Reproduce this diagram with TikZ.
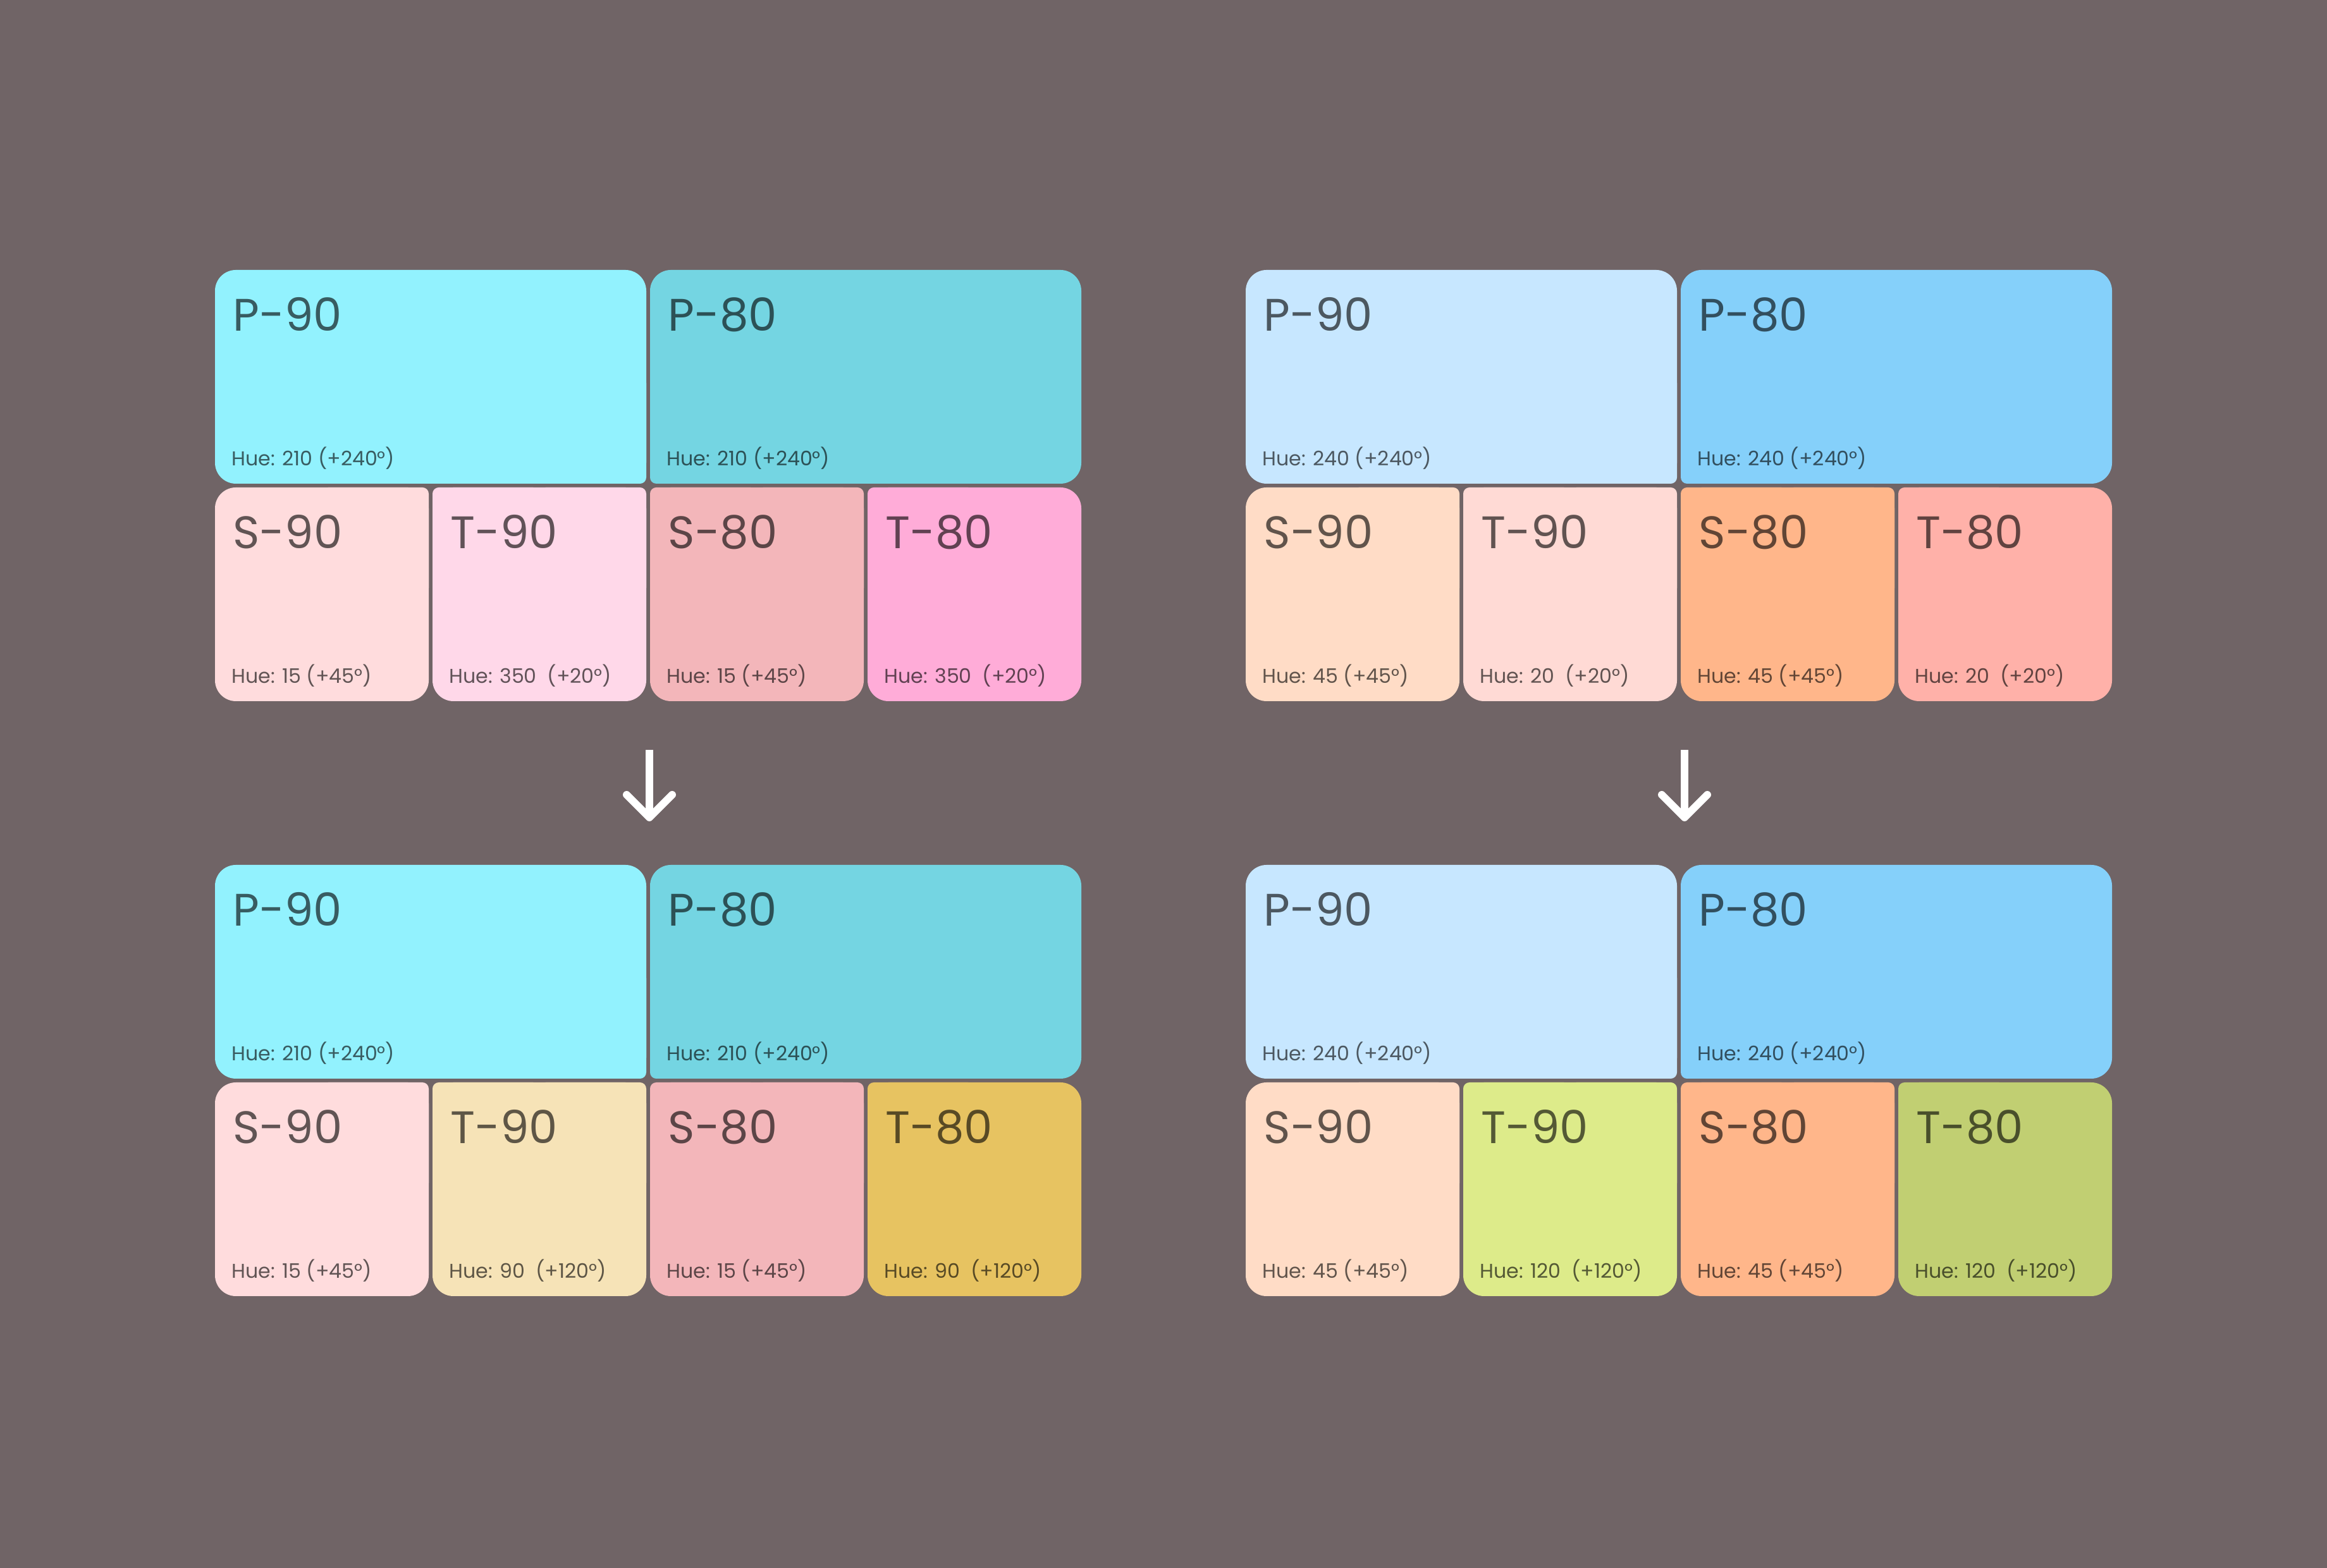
\documentclass[tikz,border=0pt]{standalone}
\usepackage{fontspec}
\setmainfont{Poppins}
\usetikzlibrary{arrows.meta}

\definecolor{bg}{HTML}{706466}
\definecolor{lp9}{HTML}{92F2FE}
\definecolor{lp8}{HTML}{74D5E2}
\definecolor{ls9}{HTML}{FFDCDD}
\definecolor{lt9}{HTML}{FFD8E9}
\definecolor{ls8}{HTML}{F3B6BA}
\definecolor{lt8}{HTML}{FFACD8}
\definecolor{mt9}{HTML}{F6E3B7}
\definecolor{mt8}{HTML}{E7C361}
\definecolor{rp9}{HTML}{C7E7FF}
\definecolor{rp8}{HTML}{85D0FA}
\definecolor{rs9}{HTML}{FFDCC6}
\definecolor{rt9}{HTML}{FFDAD5}
\definecolor{rs8}{HTML}{FFB68A}
\definecolor{rt8}{HTML}{FFB1A9}
\definecolor{nt9}{HTML}{DDEB8A}
\definecolor{nt8}{HTML}{C1CF72}

% name, colour, top left, width, tone, hue, inner corners
\newcommand{\swatch}[7]{%
  \node[tile,fill=#2,minimum width=#4,anchor=north west] (#1) at (#3) {};
  \foreach \cn in {#7} \fill[#2,rounded corners=2.8pt] (#1.\cn) rectangle (#1.center);
  \node[tone,text=#2!38!black] (#1-lbl) at ([shift={(0.28,-0.97)}]#1.north west) {#5};
  \node[hue,text=#2!38!black] (#1-hue) at ([shift={(0.26,0.28)}]#1.south west) {#6};
}

\begin{document}
\begin{tikzpicture}[
    tile/.style={rectangle,inner sep=0,outer sep=0,minimum height=3.38cm,rounded corners=9.4pt},
    tone/.style={anchor=base west,inner sep=0,font=\fontsize{20.5pt}{25pt}\selectfont},
    hue/.style={anchor=base west,inner sep=0,font=\fontsize{9pt}{11pt}\selectfont},
    flow/.style={white,line width=3.4pt,-{Straight Barb[length=0.36cm,width=0.72cm,line cap=round,line join=round]}}]

  \fill[bg] (0,0) rectangle (36.8,24.8);
  \useasboundingbox (0,0) rectangle (36.8,24.8);

  % left, before
  \swatch{lu-p9}{lp9}{3.40,20.53}{6.82cm}{P-90}{Hue: 210 (+240°)}{south east}
  \swatch{lu-p8}{lp8}{10.28,20.53}{6.82cm}{P-80}{Hue: 210 (+240°)}{south west}
  \swatch{lu-s9}{ls9}{3.40,17.09}{3.38cm}{S-90}{Hue: 15 (+45°)}{north east}
  \swatch{lu-t9}{lt9}{6.84,17.09}{3.38cm}{T-90}{Hue: 350\ \ (+20°)}{north west,north east}
  \swatch{lu-s8}{ls8}{10.28,17.09}{3.38cm}{S-80}{Hue: 15 (+45°)}{north west,north east}
  \swatch{lu-t8}{lt8}{13.72,17.09}{3.38cm}{T-80}{Hue: 350\ \ (+20°)}{north west}

  % left, after
  \swatch{ll-p9}{lp9}{3.40,11.12}{6.82cm}{P-90}{Hue: 210 (+240°)}{south east}
  \swatch{ll-p8}{lp8}{10.28,11.12}{6.82cm}{P-80}{Hue: 210 (+240°)}{south west}
  \swatch{ll-s9}{ls9}{3.40,7.68}{3.38cm}{S-90}{Hue: 15 (+45°)}{north east}
  \swatch{ll-t9}{mt9}{6.84,7.68}{3.38cm}{T-90}{Hue: 90\ \ (+120°)}{north west,north east}
  \swatch{ll-s8}{ls8}{10.28,7.68}{3.38cm}{S-80}{Hue: 15 (+45°)}{north west,north east}
  \swatch{ll-t8}{mt8}{13.72,7.68}{3.38cm}{T-80}{Hue: 90\ \ (+120°)}{north west}

  % right, before
  \swatch{ru-p9}{rp9}{19.70,20.53}{6.82cm}{P-90}{Hue: 240 (+240°)}{south east}
  \swatch{ru-p8}{rp8}{26.58,20.53}{6.82cm}{P-80}{Hue: 240 (+240°)}{south west}
  \swatch{ru-s9}{rs9}{19.70,17.09}{3.38cm}{S-90}{Hue: 45 (+45°)}{north east}
  \swatch{ru-t9}{rt9}{23.14,17.09}{3.38cm}{T-90}{Hue: 20\ \ (+20°)}{north west,north east}
  \swatch{ru-s8}{rs8}{26.58,17.09}{3.38cm}{S-80}{Hue: 45 (+45°)}{north west,north east}
  \swatch{ru-t8}{rt8}{30.02,17.09}{3.38cm}{T-80}{Hue: 20\ \ (+20°)}{north west}

  % right, after
  \swatch{rl-p9}{rp9}{19.70,11.12}{6.82cm}{P-90}{Hue: 240 (+240°)}{south east}
  \swatch{rl-p8}{rp8}{26.58,11.12}{6.82cm}{P-80}{Hue: 240 (+240°)}{south west}
  \swatch{rl-s9}{rs9}{19.70,7.68}{3.38cm}{S-90}{Hue: 45 (+45°)}{north east}
  \swatch{rl-t9}{nt9}{23.14,7.68}{3.38cm}{T-90}{Hue: 120\ \ (+120°)}{north west,north east}
  \swatch{rl-s8}{rs8}{26.58,7.68}{3.38cm}{S-80}{Hue: 45 (+45°)}{north west,north east}
  \swatch{rl-t8}{nt8}{30.02,7.68}{3.38cm}{T-80}{Hue: 120\ \ (+120°)}{north west}

  \coordinate (la-top) at (10.27,12.94);
  \coordinate (la-tip) at (10.27,11.81);
  \coordinate (ra-top) at (26.64,12.94);
  \coordinate (ra-tip) at (26.64,11.81);
  \draw[flow] (la-top) -- (la-tip);
  \draw[flow] (ra-top) -- (ra-tip);
\end{tikzpicture}
\end{document}
